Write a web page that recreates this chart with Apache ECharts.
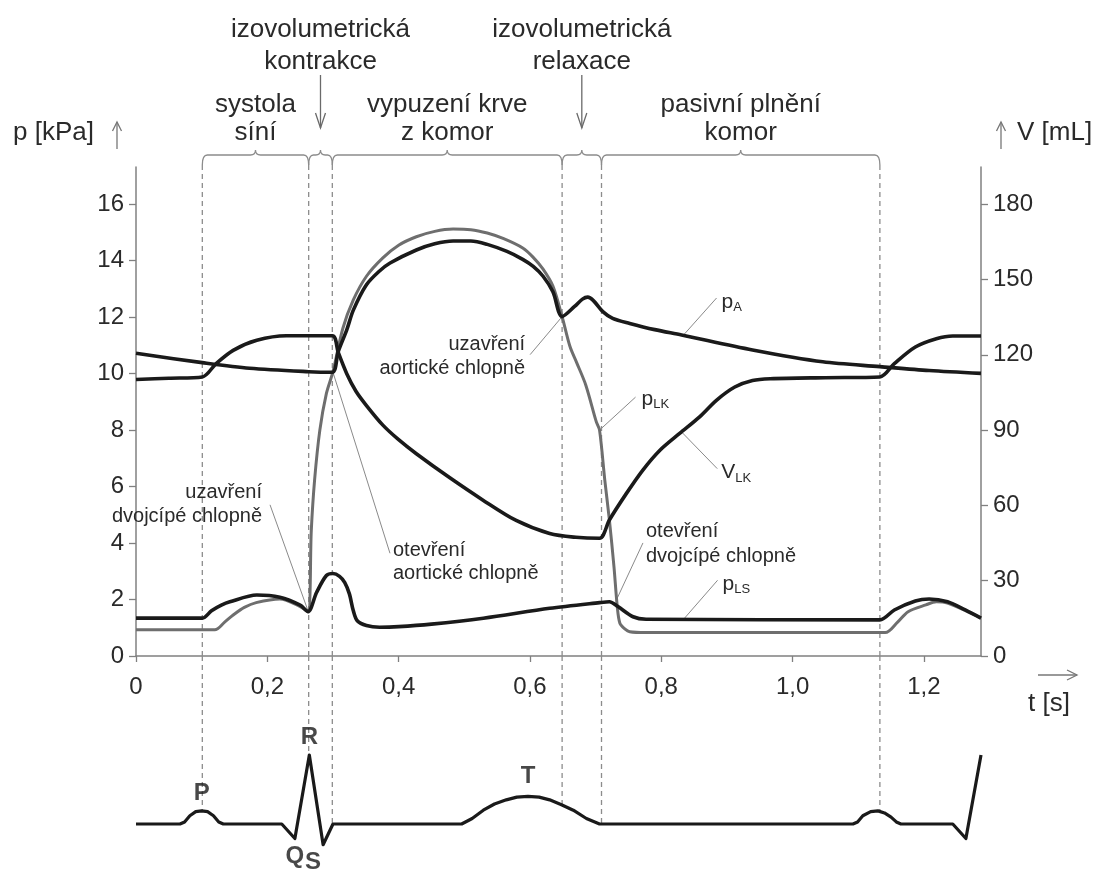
<!DOCTYPE html>
<html>
<head>
<meta charset="utf-8">
<script src="https://cdn.jsdelivr.net/npm/echarts@6/dist/echarts.min.js"></script>
<style>
  html, body { margin: 0; padding: 0; background: #fff; }
  #chart { width: 1096px; height: 872px; }
</style>
</head>
<body>
<div id="chart"></div>
<script>
// ---- axes -------------------------------------------------------------
const timeMax = 1.287;                       // s
const timeTicks = [0, 0.2, 0.4, 0.6, 0.8, 1.0, 1.2];
const pressureMax = 17.32;                   // kPa
const pressureTicks = [0, 2, 4, 6, 8, 10, 12, 14, 16];
const mlPerKpa = 11.25;                      // right axis: 180 mL sits at 16 kPa
const volumeTicks = [0, 30, 60, 90, 120, 150, 180];

// ---- aortic pressure p_A [t (s), kPa] ---------------------------------
const aorticPressure = [
  [0, 10.72], [0.101, 10.39], [0.173, 10.19], [0.263, 10.07], [0.299, 10.05],
  [0.308, 10.78], [0.321, 11.55], [0.331, 12.25], [0.351, 13.15], [0.370, 13.62],
  [0.387, 13.92], [0.427, 14.38], [0.455, 14.6], [0.483, 14.7], [0.510, 14.7],
  [0.535, 14.58], [0.565, 14.33], [0.589, 14.05], [0.605, 13.8], [0.620, 13.45],
  [0.635, 12.9], [0.649, 12.02], [0.668, 12.38], [0.680, 12.64], [0.688, 12.71],
  [0.697, 12.58], [0.711, 12.2], [0.726, 11.96], [0.752, 11.78], [0.790, 11.56],
  [0.831, 11.37], [0.939, 10.84], [1.046, 10.42], [1.133, 10.25], [1.208, 10.11],
  [1.287, 10.01]
];

// ---- left ventricle pressure p_LK [t, kPa] ----------------------------
const ventriclePressure = [
  [0, 0.93], [0.120, 0.93], [0.135, 1.2], [0.148, 1.45], [0.165, 1.72],
  [0.183, 1.89], [0.219, 2.02], [0.250, 1.75], [0.262, 1.57], [0.267, 4.46],
  [0.272, 6.23], [0.280, 8.0], [0.290, 9.3], [0.300, 10.07], [0.315, 11.6],
  [0.331, 12.61], [0.351, 13.45], [0.376, 14.1], [0.400, 14.55], [0.427, 14.85],
  [0.455, 15.04], [0.483, 15.12], [0.510, 15.1], [0.535, 14.98], [0.560, 14.78],
  [0.589, 14.45], [0.605, 14.12], [0.620, 13.7], [0.635, 13.1], [0.649, 12.02],
  [0.661, 10.96], [0.671, 10.4], [0.685, 9.6], [0.701, 8.3], [0.706, 8.0],
  [0.714, 6.23], [0.721, 4.82], [0.728, 3.16], [0.733, 1.75], [0.737, 1.16],
  [0.745, 0.95], [0.752, 0.86], [0.776, 0.83], [1.141, 0.83], [1.160, 1.2],
  [1.176, 1.57], [1.203, 1.81], [1.219, 1.92], [1.236, 1.87], [1.287, 1.34]
];

// ---- left atrium pressure p_LS [t, kPa] -------------------------------
const atriumPressure = [
  [0, 1.34], [0.101, 1.34], [0.115, 1.6], [0.130, 1.8], [0.143, 1.92],
  [0.184, 2.16], [0.219, 2.08], [0.250, 1.80], [0.262, 1.57], [0.275, 2.25],
  [0.290, 2.85], [0.300, 2.92], [0.310, 2.82], [0.318, 2.6], [0.325, 2.2],
  [0.331, 1.6], [0.337, 1.25], [0.351, 1.08], [0.371, 1.02], [0.400, 1.04],
  [0.450, 1.13], [0.529, 1.34], [0.630, 1.69], [0.706, 1.89], [0.721, 1.92],
  [0.734, 1.75], [0.757, 1.39], [0.777, 1.30], [1.133, 1.28], [1.155, 1.63],
  [1.187, 1.95], [1.208, 2.02], [1.236, 1.92], [1.263, 1.63], [1.287, 1.34]
];

// ---- left ventricle volume V_LK [t, mL] -------------------------------
const ventricleVolume = [
  [0, 110.2], [0.05, 110.7], [0.101, 111.2], [0.122, 116.5], [0.148, 121.8],
  [0.184, 125.8], [0.229, 127.6], [0.299, 127.6], [0.308, 121.0], [0.321, 112.5],
  [0.335, 105.5], [0.351, 99.8], [0.376, 92.0], [0.400, 86.2], [0.427, 80.6],
  [0.478, 71.0], [0.528, 62.2], [0.579, 54.0], [0.630, 48.8], [0.670, 47.3],
  [0.706, 46.9], [0.721, 54.2], [0.747, 64.8], [0.772, 74.1], [0.798, 82.0],
  [0.828, 88.7], [0.858, 95.2], [0.884, 101.9], [0.912, 107.2], [0.939, 109.8],
  [0.966, 110.5], [1.05, 110.9], [1.133, 111.2], [1.155, 116.5], [1.187, 123.1],
  [1.219, 126.4], [1.244, 127.5], [1.287, 127.5]
];

// ---- ECG [t, mV] ------------------------------------------------------
const ecgTrace = [
  [0, 0], [0.067, 0], [0.074, 0.03], [0.082, 0.12], [0.091, 0.18], [0.100, 0.19],
  [0.109, 0.18], [0.118, 0.12], [0.126, 0.03], [0.133, 0],
  [0.222, 0], [0.242, -0.21], [0.264, 1.0], [0.285, -0.30], [0.300, 0],
  [0.496, 0], [0.512, 0.08], [0.529, 0.20], [0.546, 0.29], [0.564, 0.35],
  [0.580, 0.39], [0.597, 0.40], [0.614, 0.39], [0.630, 0.35], [0.648, 0.28],
  [0.666, 0.20], [0.686, 0.08], [0.706, 0],
  [1.092, 0], [1.099, 0.03], [1.107, 0.12], [1.119, 0.18], [1.130, 0.19],
  [1.140, 0.16], [1.150, 0.10], [1.158, 0.03], [1.165, 0],
  [1.244, 0], [1.264, -0.21], [1.287, 1.0]
];
const ecgWaves = [['P', 0.100], ['Q', 0.242], ['R', 0.264], ['S', 0.285], ['T', 0.597]];

// ---- cardiac cycle phases ---------------------------------------------
const phaseBounds = [0.101, 0.263, 0.299, 0.649, 0.709, 1.133];
const phaseNames = [
  'systola\nsíní',
  'izovolumetrická\nkontrakce',
  'vypuzení krve\nz komor',
  'izovolumetrická\nrelaxace',
  'pasivní plnění\nkomor'
];

// ---- callouts: [text, t, value, axis] ('a|b' = letter with subscript) --
const callouts = [
  ['uzavření\ndvojcípé chlopně', 0.262, 1.6, 'p'],
  ['otevření\naortické chlopně', 0.300, 10.05, 'p'],
  ['uzavření\naortické chlopně', 0.649, 12.02, 'p'],
  ['p|A', 0.834, 11.37, 'p'],
  ['p|LK', 0.706, 8.0, 'p'],
  ['V|LK', 0.832, 89, 'V'],
  ['otevření\ndvojcípé chlopně', 0.731, 1.95, 'p'],
  ['p|LS', 0.834, 1.30, 'p']
];

// leader-line offsets and text placement for the callouts (pixels)
const calloutLayout = [
  { dx: -38, dy: -106, tx: -8, ty: 0, align: 'right', lh: 24 },
  { dx: 57, dy: 181, tx: 3, ty: 9, align: 'left', lh: 23 },
  { dx: -32, dy: 38, tx: -5, ty: 2, align: 'right', lh: 24 },
  { dx: 33, dy: -37, tx: 5, ty: 4, align: 'left' },
  { dx: 36, dy: -33, tx: 6, ty: 2, align: 'left' },
  { dx: 35, dy: 36, tx: 4, ty: 4, align: 'left' },
  { dx: 27, dy: -58, tx: 3, ty: 1, align: 'left', lh: 25 },
  { dx: 34, dy: -39, tx: 5, ty: 4, align: 'left' }
];

const FONT = "'Liberation Sans', Arial, Helvetica, sans-serif";
const INK = '#1a1a1a';
const TEXT = '#2a2a2a';
const AXIS = '#808080';
const GUIDE = '#8c8c8c';

function ecgAt(t) {
  for (let i = 1; i < ecgTrace.length; i++) {
    const [t0, v0] = ecgTrace[i - 1];
    const [t1, v1] = ecgTrace[i];
    if (t >= t0 && t <= t1) return t1 === t0 ? v1 : v0 + (v1 - v0) * (t - t0) / (t1 - t0);
  }
  return 0;
}

function fmtTime(v) {
  return v === 0 ? '0' : v.toFixed(1).replace('.', ',');
}

// braces, phase titles and the upper part of the dashed phase boundaries
function renderPhase(params, api) {
  const idx = api.value(2);
  const a = api.coord([api.value(0), pressureMax]);
  const b = api.coord([api.value(1), pressureMax]);
  const bottom = api.coord([api.value(0), 0])[1];
  const x0 = a[0], x1 = b[0], top = a[1];
  const yb = top - 12, xm = (x0 + x1) / 2;
  const r = Math.min(5, (x1 - x0) / 5);
  const children = [];
  children.push({
    type: 'path',
    shape: {
      pathData: `M${x0} ${yb + 10} Q${x0} ${yb} ${x0 + r} ${yb} L${xm - r} ${yb} ` +
        `Q${xm} ${yb} ${xm} ${yb - 5} Q${xm} ${yb} ${xm + r} ${yb} ` +
        `L${x1 - r} ${yb} Q${x1} ${yb} ${x1} ${yb + 10}`
    },
    style: { stroke: GUIDE, lineWidth: 1.3, fill: null }
  });
  const dashed = (x) => ({
    type: 'line',
    shape: { x1: x, y1: yb + 10, x2: x, y2: bottom },
    style: { stroke: GUIDE, lineWidth: 1.3, lineDash: [5, 4] }
  });
  children.push(dashed(x0));
  if (idx === phaseNames.length - 1) children.push(dashed(x1));
  if (x1 - x0 < 60) {
    children.push({
      type: 'line', shape: { x1: xm, y1: yb - 80, x2: xm, y2: yb - 27 },
      style: { stroke: '#6a6a6a', lineWidth: 1.3 }
    });
    children.push({
      type: 'polyline', shape: { points: [[xm - 5, yb - 42], [xm, yb - 27], [xm + 5, yb - 42]] },
      style: { stroke: '#6a6a6a', lineWidth: 1.3, fill: null }
    });
    children.push({
      type: 'text',
      style: {
        text: phaseNames[idx], x: xm, y: yb - 77, align: 'center', verticalAlign: 'bottom',
        fontSize: 26, fontFamily: FONT, fill: TEXT, lineHeight: 32
      }
    });
  } else {
    children.push({
      type: 'text',
      style: {
        text: phaseNames[idx], x: xm, y: yb - 8, align: 'center', verticalAlign: 'bottom',
        fontSize: 26, fontFamily: FONT, fill: TEXT, lineHeight: 28
      }
    });
  }
  return { type: 'group', children };
}

// lower part of the phase boundaries, ending on the ECG trace
function renderEcgGuide(params, api) {
  const t = api.value(0);
  const top = api.coord([t, 2.435]);
  const end = api.coord([t, api.value(1)]);
  return {
    type: 'line',
    shape: { x1: top[0], y1: top[1], x2: end[0], y2: end[1] },
    style: { stroke: GUIDE, lineWidth: 1.3, lineDash: [5, 4] }
  };
}

function renderCallout(params, api) {
  const i = api.value(2);
  const lay = calloutLayout[i];
  const text = callouts[i][0];
  const p = api.coord([api.value(0), api.value(1)]);
  const ex = p[0] + lay.dx, ey = p[1] + lay.dy;
  const children = [{
    type: 'line', shape: { x1: p[0], y1: p[1], x2: ex, y2: ey },
    style: { stroke: '#8a8a8a', lineWidth: 1 }
  }];
  if (text.indexOf('|') >= 0) {
    const [main, sub] = text.split('|');
    children.push({
      type: 'text',
      style: {
        text: `{m|${main}}{s|${sub}}`, x: ex + lay.tx, y: ey + lay.ty,
        align: lay.align, verticalAlign: 'middle',
        rich: {
          m: { fontSize: 21, fontFamily: FONT, fill: TEXT, lineHeight: 24 },
          s: { fontSize: 13, fontFamily: FONT, fill: TEXT, lineHeight: 14, verticalAlign: 'bottom' }
        }
      }
    });
  } else {
    children.push({
      type: 'text',
      style: {
        text, x: ex + lay.tx, y: ey + lay.ty, align: lay.align, verticalAlign: 'middle',
        fontSize: 20, fontFamily: FONT, fill: TEXT, lineHeight: lay.lh || 24
      }
    });
  }
  return { type: 'group', children };
}

const phaseData = phaseNames.map((n, i) => [phaseBounds[i], phaseBounds[i + 1], i]);
const calloutP = [], calloutV = [];
callouts.forEach((c, i) => (c[3] === 'V' ? calloutV : calloutP).push([c[1], c[2], i]));

const waveOffsets = { S: [-10, 0] };
const waveData = ecgWaves.map(([name, t]) => {
  const v = ecgAt(t);
  return {
    value: [t, v],
    label: {
      show: true, formatter: name, position: v < 0 ? 'bottom' : 'top',
      distance: name === 'T' ? 8 : 6, offset: waveOffsets[name] || [0, 0]
    }
  };
});

const chart = echarts.init(document.getElementById('chart'), null, { renderer: 'canvas' });

const curve = (name, data, yAxisIndex, color, width, z) => ({
  type: 'line', name, xAxisIndex: 0, yAxisIndex, data,
  showSymbol: false, smooth: 0.3, z,
  lineStyle: { color, width, join: 'round' }
});

chart.setOption({
  animation: false,
  backgroundColor: '#fff',
  grid: [
    { left: 136, right: 115, top: 167, bottom: 216 },
    { left: 136, right: 115, top: 656, bottom: 13.5 }
  ],
  xAxis: [
    {
      type: 'value', gridIndex: 0, min: 0, max: timeMax,
      axisLine: { onZero: false, lineStyle: { color: AXIS, width: 1.5 } },
      axisTick: { customValues: timeTicks, length: 6, lineStyle: { color: AXIS, width: 1.3 } },
      axisLabel: {
        customValues: timeTicks, formatter: fmtTime, margin: 19,
        fontSize: 24, fontFamily: FONT, color: TEXT
      },
      splitLine: { show: false }
    },
    { type: 'value', gridIndex: 1, min: 0, max: timeMax, show: false }
  ],
  yAxis: [
    {
      type: 'value', gridIndex: 0, min: 0, max: pressureMax, position: 'left',
      axisLine: { show: true, lineStyle: { color: AXIS, width: 1.5 } },
      axisTick: { show: true, customValues: pressureTicks, length: 7, lineStyle: { color: AXIS, width: 1.3 } },
      axisLabel: { customValues: pressureTicks, margin: 12, fontSize: 24, fontFamily: FONT, color: TEXT },
      splitLine: { show: false }
    },
    {
      type: 'value', gridIndex: 0, min: 0, max: pressureMax * mlPerKpa, position: 'right',
      axisLine: { show: true, lineStyle: { color: AXIS, width: 1.5 } },
      axisTick: { show: true, customValues: volumeTicks, length: 7, lineStyle: { color: AXIS, width: 1.3 } },
      axisLabel: { customValues: volumeTicks, margin: 12, fontSize: 24, fontFamily: FONT, color: TEXT },
      splitLine: { show: false }
    },
    { type: 'value', gridIndex: 1, min: -0.5, max: 2.435, show: false }
  ],
  series: [
    {
      type: 'custom', name: 'fáze', xAxisIndex: 0, yAxisIndex: 0, clip: false, z: 1, silent: true,
      renderItem: renderPhase, data: phaseData, encode: { x: [0, 1], y: 2 }
    },
    {
      type: 'custom', name: 'fáze EKG', xAxisIndex: 1, yAxisIndex: 2, clip: false, z: 1, silent: true,
      renderItem: renderEcgGuide, data: phaseBounds.map(t => [t, ecgAt(t)])
    },
    curve('pLK', ventriclePressure, 0, '#6e6e6e', 3, 3),
    curve('pA', aorticPressure, 0, INK, 3.6, 4),
    curve('pLS', atriumPressure, 0, INK, 3.6, 4),
    curve('VLK', ventricleVolume, 1, INK, 3.6, 4),
    {
      type: 'custom', name: 'popisky p', xAxisIndex: 0, yAxisIndex: 0, clip: false, z: 2, silent: true,
      renderItem: renderCallout, data: calloutP
    },
    {
      type: 'custom', name: 'popisky V', xAxisIndex: 0, yAxisIndex: 1, clip: false, z: 2, silent: true,
      renderItem: renderCallout, data: calloutV
    },
    {
      type: 'line', name: 'EKG', xAxisIndex: 1, yAxisIndex: 2, data: ecgTrace,
      showSymbol: false, smooth: false, z: 4,
      lineStyle: { color: INK, width: 3.2, join: 'round' }
    },
    {
      type: 'scatter', name: 'vlny EKG', xAxisIndex: 1, yAxisIndex: 2, data: waveData,
      symbolSize: 0, z: 5, silent: true,
      label: { fontSize: 24, fontWeight: 'bold', fontFamily: FONT, color: INK }
    }
  ],
  graphic: [
    { type: 'text', x: 13, y: 133, style: { text: 'p [kPa]', fontSize: 26, fontFamily: FONT, fill: TEXT, verticalAlign: 'middle' } },
    { type: 'polyline', shape: { points: [[117, 149], [117, 122]] }, style: { stroke: '#777', lineWidth: 1.3, fill: null } },
    { type: 'polyline', shape: { points: [[112.5, 131], [117, 122], [121.5, 131]] }, style: { stroke: '#777', lineWidth: 1.3, fill: null } },
    { type: 'text', x: 1017, y: 133, style: { text: 'V [mL]', fontSize: 26, fontFamily: FONT, fill: TEXT, verticalAlign: 'middle' } },
    { type: 'polyline', shape: { points: [[1001, 149], [1001, 122]] }, style: { stroke: '#777', lineWidth: 1.3, fill: null } },
    { type: 'polyline', shape: { points: [[996.5, 131], [1001, 122], [1005.5, 131]] }, style: { stroke: '#777', lineWidth: 1.3, fill: null } },
    { type: 'polyline', shape: { points: [[1038, 675], [1077, 675]] }, style: { stroke: '#777', lineWidth: 1.3, fill: null } },
    { type: 'polyline', shape: { points: [[1067, 670], [1077, 675], [1067, 680]] }, style: { stroke: '#777', lineWidth: 1.3, fill: null } },
    { type: 'text', x: 1049, y: 704, style: { text: 't [s]', fontSize: 26, fontFamily: FONT, fill: TEXT, align: 'center', verticalAlign: 'middle' } }
  ]
});
</script>
</body>
</html>
